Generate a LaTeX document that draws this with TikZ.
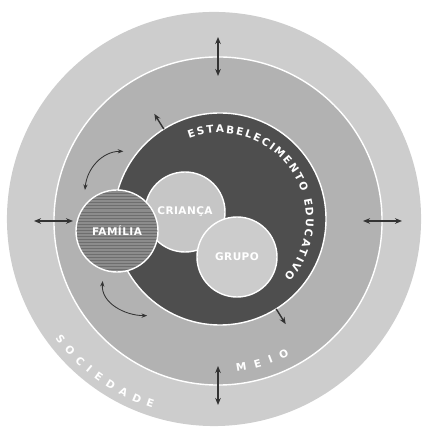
\documentclass[tikz,border=0pt]{standalone}
\usepackage{fontspec}
\newfontfamily\lblfont{DejaVu Sans}[LetterSpace=4]
\usetikzlibrary{arrows.meta,calc,decorations.text}
\definecolor{socgray}{HTML}{CDCDCD}
\definecolor{meiogray}{HTML}{B2B2B2}
\definecolor{estgray}{HTML}{4E4E4E}
\definecolor{crigray}{HTML}{C6C6C6}
\definecolor{grpgray}{HTML}{CCCCCC}
\definecolor{famgray}{HTML}{8C8C8C}
\definecolor{famline}{HTML}{6E6E6E}
\definecolor{arrowgray}{HTML}{333333}

\begin{document}
\begin{tikzpicture}[
        x=0.025cm, y=0.025cm,
        ring/.style={circle, inner sep=0pt, outer sep=0pt, draw=white, line width=1pt},
        lbl/.style={font=\lblfont\bfseries\fontsize{7.5}{9}\selectfont, text=white},
        link/.style={<->, >={Stealth[length=5pt, width=4pt]}, arrowgray, line width=1pt},
        famlink/.style={<->, >={Stealth[length=4pt, width=3pt]}, arrowgray, line width=0.6pt},
        curvetext/.style={decorate, decoration={text along path, text align={fit to path},
                text color=white, text={|\lblfont\bfseries\fontsize{7.5}{9}\selectfont|#1}}}
    ]
    \useasboundingbox (0,0) rectangle (422,432);

    % aneis
    \node[circle, inner sep=0pt, fill=socgray, minimum size=10.35cm] (soc) at (214,213) {};
    \node[ring, fill=meiogray, minimum size=8.2cm] (meio) at (218,211) {};
    \node[ring, fill=estgray, minimum size=5.3cm] (est) at (220,213) {};

    % circulos interiores
    \node[ring, lbl, fill=crigray, minimum size=2cm] (cri) at (185,220) {CRIANÇA};
    \node[ring, lbl, fill=grpgray, minimum size=2cm] (grp) at (237,175) {GRUPO};
    \node[ring, lbl, fill=famgray, minimum size=2.05cm,
        path picture={
                \foreach \k in {0,...,28} {
                        \draw[famline, line width=0.7pt]
                        ([yshift=\k*0.075cm]path picture bounding box.south west) -- ++(2.2cm,0);
                    }
            }] (fam) at (117,201) {FAMÍLIA};

    % textos curvos
    \path[curvetext={ESTABELECIMENTO EDUCATIVO}]
    ($(est.center)+(111:86)$) arc[start angle=111, end angle=-42, radius=86];
    \path[curvetext={MEIO}]
    ($(meio.center)+(-83:152)$) arc[start angle=-83, end angle=-62, radius=152];
    \path[curvetext={SOCIEDADE}]
    ($(soc.center)+(217:199)$) arc[start angle=217, end angle=252, radius=199];

    % setas meio - sociedade
    \foreach \a in {0,90,180,270} {
            \coordinate (in\a) at ($(meio.center)+(\a:145)$);
            \coordinate (out\a) at ($(meio.center)+(\a:184)$);
            \draw[link] (in\a) -- (out\a);
        }

    % setas estabelecimento - meio
    \coordinate (e1) at ($(est.center)+(122:124)$);
    \coordinate (e2) at ($(est.center)+(-58:124)$);
    \draw[link, -{Stealth[length=5pt, width=4pt]}] (est.122) -- (e1);
    \draw[link, -{Stealth[length=5pt, width=4pt]}] (est.-58) -- (e2);

    % setas familia - estabelecimento
    \coordinate (f1) at ($(fam.center)+(128:52)$);
    \coordinate (g1) at ($(est.center)+(145:118)$);
    \coordinate (f2) at ($(fam.center)+(254:52)$);
    \coordinate (g2) at ($(est.center)+(233:121)$);
    \draw[famlink] (f1) to[out=85, in=180] (g1);
    \draw[famlink] (f2) to[out=265, in=180] (g2);
\end{tikzpicture}
\end{document}
